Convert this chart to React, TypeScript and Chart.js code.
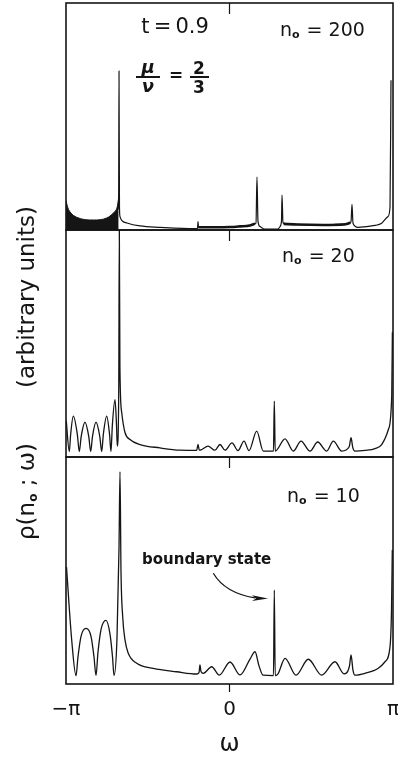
import React, { useEffect, useRef } from 'react';
import { Chart, registerables } from 'chart.js';

Chart.register(...registerables);

const PI = Math.PI;
const FONT = '"DejaVu Sans", "Liberation Sans", sans-serif';
const INK = '#151515';

// x axis
const X_TICK_VALUES = [-PI, 0, PI];
const X_TICK_LABELS = ['−π', '0', 'π'];
const X_TITLE = 'ω';

// y title pieces
const Y_TITLE_RHO = 'ρ(n';
const Y_TITLE_SUB = 'o';
const Y_TITLE_REST = ' ; ω)';
const Y_TITLE_UNITS = '(arbitrary units)';

// panels (top to bottom)
const PANEL_IDS = ['y200', 'y20', 'y10'];
const PANEL_N0 = ['200', '20', '10'];

// n0 = 200 : dense oscillating region (drawn solid)
const N200_DENSE_W = [-3.141, -3.116, -3.065, -2.936, -2.615, -2.360, -2.232, -2.156, -2.130];
const N200_DENSE_R = [13, 10.5, 8, 5.6, 4.4, 5.3, 7.5, 10.3, 14];

// n0 = 200 : main curve
const N200_W = [-2.140, -2.130, -2.123, -2.114, -2.104, -2.066, -1.970, -1.720, -1.335, -0.663, -0.615, -0.605, -0.595, 0.010, 0.394, 0.509, 0.528, 0.547, 0.586, 0.682, 0.932, 0.970, 0.999, 1.009, 1.028, 1.100, 1.800, 2.300, 2.335, 2.354, 2.373, 2.469, 2.796, 2.924, 3.045, 3.084, 3.103];
const N200_R = [9, 16, 70, 10, 5.9, 4.1, 3.1, 1.8, 1.2, 0.6, 0.7, 3.7, 1.2, 1.3, 2.0, 3.0, 23.3, 4.0, 1.5, 0.4, 0.4, 1.5, 4.0, 15.4, 3.2, 2.6, 2.2, 2.8, 3.7, 11.3, 3.0, 1.2, 2.0, 3.0, 5.9, 10, 66];

// n0 = 200 : thick dense bands in the inner band
const N200_BAND_A_W = [-0.600, -0.300, 0.010, 0.200, 0.394, 0.490];
const N200_BAND_A_R = [1.2, 1.2, 1.3, 1.6, 2.0, 2.8];
const N200_BAND_B_W = [1.040, 1.300, 1.800, 2.200, 2.320];
const N200_BAND_B_R = [2.7, 2.4, 2.2, 2.4, 3.2];

// n0 = 20
const N20_W = [-3.137, -3.078, -3.052, -3.001, -2.924, -2.886, -2.850, -2.777, -2.704, -2.667, -2.633, -2.565, -2.492, -2.456, -2.424, -2.360, -2.305, -2.277, -2.251, -2.200, -2.171, -2.156, -2.128, -2.117, -2.106, -2.071, -2.008, -1.912, -1.720, -1.335, -0.951, -0.630, -0.605, -0.580, -0.534, -0.413, -0.279, -0.183, -0.086, 0.048, 0.163, 0.279, 0.375, 0.523, 0.649, 0.845, 0.861, 0.878, 1.067, 1.226, 1.374, 1.547, 1.695, 1.868, 1.995, 2.156, 2.300, 2.335, 2.370, 2.411, 2.604, 2.796, 2.924, 3.051, 3.117, 3.130];
const N20_R = [16, 2.4, 10, 18, 10, 2.4, 9, 15.3, 9, 2.4, 9, 15.3, 9, 2.4, 10, 18, 10, 2.4, 14, 25.3, 14, 4.8, 30, 100, 40, 19.6, 10.8, 7.7, 5.5, 4, 3, 2.9, 5.5, 3.0, 3.3, 4.8, 3.0, 5.5, 3.0, 6.2, 2.8, 7, 2.8, 11.4, 2.6, 2.6, 24.6, 2.6, 8, 2.6, 7, 2.6, 6.6, 2.6, 7, 2.6, 4.5, 8.5, 4, 2.6, 2.9, 3.7, 5.5, 12, 26.8, 55];

// n0 = 10
const N10_W = [-3.132, -3.032, -2.949, -2.911, -2.853, -2.757, -2.661, -2.604, -2.565, -2.527, -2.469, -2.373, -2.296, -2.248, -2.219, -2.162, -2.123, -2.104, -2.085, -2.052, -2.008, -1.945, -1.783, -1.464, -1.015, -0.630, -0.586, -0.567, -0.548, -0.503, -0.342, -0.196, 0.010, 0.202, 0.394, 0.490, 0.567, 0.644, 0.845, 0.861, 0.878, 0.932, 1.067, 1.278, 1.514, 1.772, 2.027, 2.200, 2.306, 2.335, 2.373, 2.411, 2.604, 2.859, 2.988, 3.084, 3.113, 3.128];
const N10_R = [51.5, 19.4, 3.7, 12, 21, 24.5, 21, 12, 3.7, 14, 24, 28, 22, 12, 3.7, 20, 60, 93.5, 50, 29.6, 19.4, 13.5, 9.1, 6.9, 5.4, 4.4, 5, 8.4, 5.5, 4.7, 7.6, 3.9, 9.7, 4.0, 11, 14.2, 8, 3.9, 3.7, 41.4, 3.7, 4.5, 11.3, 3.9, 10.9, 3.9, 9.8, 4.5, 8, 12.8, 6, 3.9, 4.7, 6.9, 9.8, 16.4, 32.6, 59];

// annotation anchors (data coordinates: omega, panel units)
const T_LABEL = { text: 't\u2009=\u20090.9', w: -1.047, v: 89.4 };
const FRAC_ANCHOR = { w: -1.566, v: 67.4 };
const N0_ANCHORS = [
  { w: 0.970, v: 85.5 },
  { w: 1.009, v: 85.7 },
  { w: 1.105, v: 80.2 },
];
const BOUNDARY_TEXT = { text: 'boundary state', w: -1.681, v: 54.6 };
const ARROW = { start: [-0.311, 48.8], ctrl: [-0.086, 40.1], tip: [0.740, 37.7] };

const pts = (w: number[], r: number[]) => w.map((x, i) => ({ x, y: r[i] }));

const yScale = (weight: number) => ({
  type: 'linear',
  min: 0,
  max: 100,
  position: 'left',
  stack: 'panels',
  stackWeight: 1,
  weight,
  grid: { display: false, drawTicks: false },
  border: { display: false },
  ticks: { display: false },
});

const decorPlugin = {
  id: 'decor',
  afterDraw(chart: any) {
    const { ctx, chartArea: ca, scales } = chart;
    const X = (w: number) => scales.x.getPixelForValue(w);
    const Y = (id: string, v: number) => scales[id].getPixelForValue(v);
    ctx.save();
    ctx.strokeStyle = INK;
    ctx.fillStyle = INK;

    // panel frames
    ctx.lineWidth = 1.6;
    PANEL_IDS.forEach((id) => {
      const s = scales[id];
      ctx.strokeRect(ca.left, s.top, ca.right - ca.left, s.bottom - s.top);
    });

    // tick marks at omega = 0
    const x0 = X(0);
    ctx.lineWidth = 1.2;
    ctx.beginPath();
    PANEL_IDS.forEach((id) => {
      const s = scales[id];
      ctx.moveTo(x0, s.top);
      ctx.lineTo(x0, s.top + 11);
    });
    ctx.moveTo(x0, ca.bottom);
    ctx.lineTo(x0, ca.bottom + 8);
    ctx.stroke();

    // t = 0.9
    ctx.font = `21px ${FONT}`;
    ctx.textAlign = 'center';
    ctx.textBaseline = 'middle';
    ctx.fillText(T_LABEL.text, X(T_LABEL.w), Y('y200', T_LABEL.v));

    // mu / nu = 2 / 3
    const fx = X(FRAC_ANCHOR.w);
    const fy = Y('y200', FRAC_ANCHOR.v);
    ctx.textBaseline = 'alphabetic';
    ctx.font = `bold italic 18px ${FONT}`;
    ctx.fillText('μ', fx, fy - 4);
    ctx.fillText('ν', fx, fy + 15);
    ctx.font = `bold 17px ${FONT}`;
    ctx.fillText('2', fx + 51, fy - 3);
    ctx.fillText('3', fx + 51, fy + 16);
    ctx.textBaseline = 'middle';
    ctx.fillText('=', fx + 28, fy);
    ctx.lineWidth = 2;
    ctx.beginPath();
    ctx.moveTo(fx - 12, fy);
    ctx.lineTo(fx + 12, fy);
    ctx.moveTo(fx + 42, fy);
    ctx.lineTo(fx + 61, fy);
    ctx.stroke();

    // n0 labels
    N0_ANCHORS.forEach((a, i) => {
      const x = X(a.w);
      const y = Y(PANEL_IDS[i], a.v);
      ctx.textAlign = 'left';
      ctx.textBaseline = 'alphabetic';
      ctx.font = `19px ${FONT}`;
      ctx.fillText('n', x, y);
      let dx = ctx.measureText('n').width;
      ctx.font = `bold 11px ${FONT}`;
      ctx.fillText('o', x + dx, y + 2);
      dx += ctx.measureText('o').width;
      ctx.font = `19px ${FONT}`;
      ctx.fillText(' = ' + PANEL_N0[i], x + dx + 1, y);
    });

    // boundary state
    ctx.font = `bold 15px ${FONT}`;
    ctx.textAlign = 'left';
    ctx.textBaseline = 'middle';
    ctx.fillText(BOUNDARY_TEXT.text, X(BOUNDARY_TEXT.w), Y('y10', BOUNDARY_TEXT.v));

    // arrow
    const P = (p: number[]) => [X(p[0]), Y('y10', p[1])];
    const s = P(ARROW.start), c = P(ARROW.ctrl), t = P(ARROW.tip);
    ctx.lineWidth = 1.3;
    ctx.beginPath();
    ctx.moveTo(s[0], s[1]);
    ctx.quadraticCurveTo(c[0], c[1], t[0] - 13, t[1] - 0.5);
    ctx.stroke();
    ctx.beginPath();
    ctx.moveTo(t[0], t[1]);
    ctx.lineTo(t[0] - 16, t[1] - 3.2);
    ctx.lineTo(t[0] - 12, t[1]);
    ctx.lineTo(t[0] - 16, t[1] + 2.6);
    ctx.closePath();
    ctx.fill();

    // y title (rotated)
    ctx.save();
    ctx.rotate(-PI / 2);
    ctx.textBaseline = 'alphabetic';
    ctx.textAlign = 'left';
    const base = 34;
    let u = -540;
    ctx.font = `23px ${FONT}`;
    ctx.fillText(Y_TITLE_RHO, u, base);
    u += ctx.measureText(Y_TITLE_RHO).width;
    ctx.font = `bold 12px ${FONT}`;
    ctx.fillText(Y_TITLE_SUB, u, base + 3);
    u += ctx.measureText(Y_TITLE_SUB).width;
    ctx.font = `23px ${FONT}`;
    ctx.fillText(Y_TITLE_REST, u, base);
    ctx.textAlign = 'center';
    ctx.fillText(Y_TITLE_UNITS, -297, base);
    ctx.restore();

    ctx.restore();
  },
};

export default function App() {
  const ref = useRef<HTMLCanvasElement>(null);
  useEffect(() => {
    document.body.style.margin = '0';
    const line = (data: any[], yAxisID: string, width = 1.3) => ({
      data,
      yAxisID,
      borderColor: INK,
      borderWidth: width,
      pointRadius: 0,
      fill: false,
      cubicInterpolationMode: 'monotone',
    });
    const chart = new Chart(ref.current as HTMLCanvasElement, {
      type: 'line',
      data: {
        datasets: [
          {
            ...line(pts(N200_DENSE_W, N200_DENSE_R), 'y200', 1),
            backgroundColor: INK,
            fill: 'origin',
          },
          line(pts(N200_W, N200_R), 'y200', 1.2),
          line(pts(N200_BAND_A_W, N200_BAND_A_R), 'y200', 2.6),
          line(pts(N200_BAND_B_W, N200_BAND_B_R), 'y200', 2.6),
          line(pts(N20_W, N20_R), 'y20', 1.3),
          line(pts(N10_W, N10_R), 'y10', 1.3),
        ] as any,
      },
      options: {
        responsive: false,
        devicePixelRatio: 1,
        animation: false,
        events: [],
        layout: { padding: { left: 66, right: 5, top: 3, bottom: 0 } },
        plugins: { legend: { display: false }, tooltip: { enabled: false } },
        scales: {
          x: {
            type: 'linear',
            position: 'bottom',
            min: -PI,
            max: PI,
            afterBuildTicks: (s: any) => {
              s.ticks = X_TICK_VALUES.map((v) => ({ value: v }));
            },
            afterFit: (s: any) => {
              s.height = 73;
              s.paddingLeft = 0;
              s.paddingRight = 0;
            },
            grid: { display: false, drawTicks: false },
            border: { display: false },
            ticks: {
              autoSkip: false,
              maxRotation: 0,
              padding: 14,
              color: INK,
              font: { family: FONT, size: 20 },
              callback: (_v: any, i: number) => X_TICK_LABELS[i],
            },
            title: {
              display: true,
              text: X_TITLE,
              color: INK,
              font: { family: FONT, size: 24, lineHeight: 1 },
              padding: { top: 0, bottom: 0 },
            },
          },
          y200: yScale(3),
          y20: yScale(2),
          y10: yScale(1),
        } as any,
      },
      plugins: [decorPlugin],
    });
    return () => chart.destroy();
  }, []);
  return (
    <div style={{ position: 'absolute', left: 0, top: 0, width: 398, height: 757, background: '#fff' }}>
      <canvas ref={ref} width={398} height={757} style={{ display: 'block', width: 398, height: 757 }} />
    </div>
  );
}
